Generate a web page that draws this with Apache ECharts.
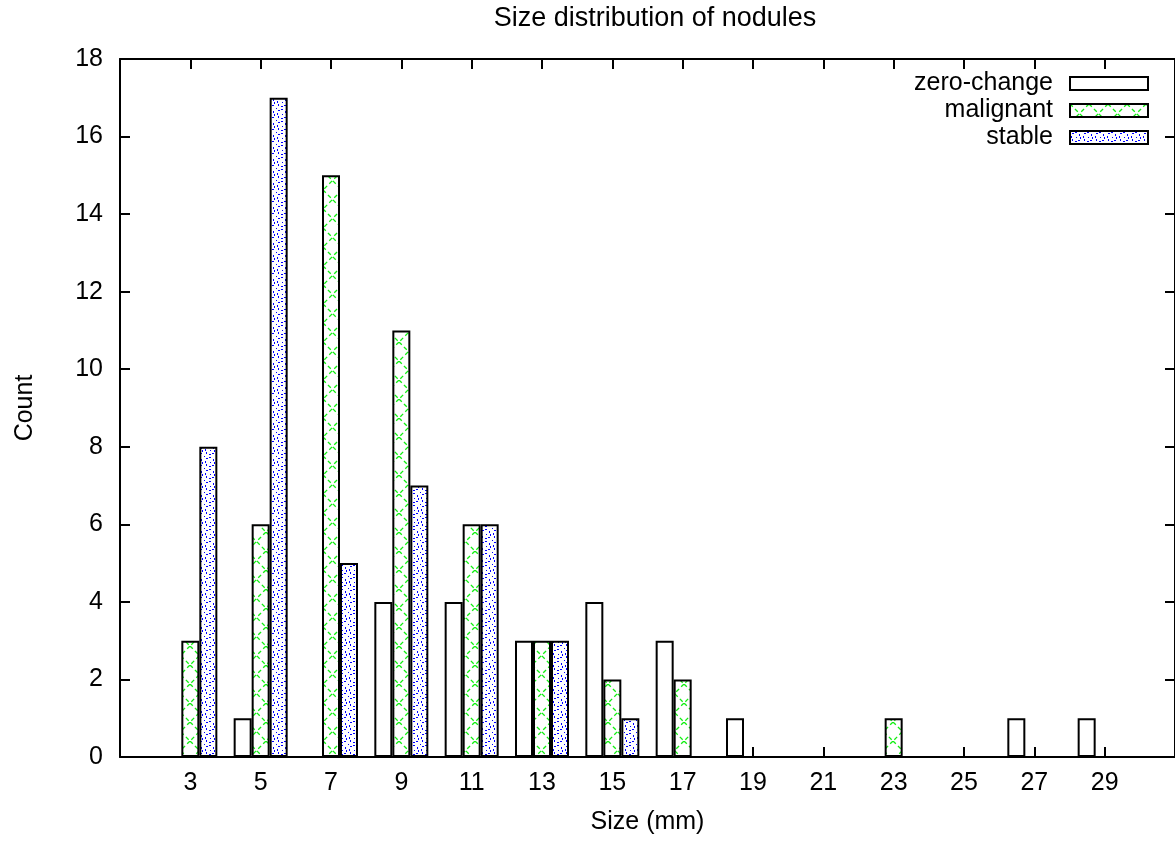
<!DOCTYPE html>
<html>
<head>
<meta charset="utf-8">
<title>Size distribution of nodules</title>
<script src="https://cdn.jsdelivr.net/npm/echarts@6/dist/echarts.min.js"></script>
<style>
  html, body { margin: 0; padding: 0; background: #fff; }
  #chart { width: 1175px; height: 841px; }
</style>
</head>
<body>
<div id="chart"></div>
<script>
// values
const sizes = [3, 5, 7, 9, 11, 13, 15, 17, 19, 21, 23, 25, 27, 29]
const zeroChange = [0, 1, 0, 4, 4, 3, 4, 3, 1, 0, 0, 0, 1, 1]
const malignant = [3, 6, 15, 11, 6, 3, 2, 2, 0, 0, 1, 0, 0, 0]
const stable = [8, 17, 5, 7, 6, 3, 1, 0, 0, 0, 0, 0, 0, 0]

const FONT = 'Liberation Sans, Arial, sans-serif'
const FONT_SIZE = 25
const LINE = '#000'
const LW = 2

// gnuplot-like fill patterns
function makePattern(size, draw) {
  const c = document.createElement('canvas')
  c.width = size
  c.height = size
  const ctx = c.getContext('2d')
  ctx.fillStyle = '#fff'
  ctx.fillRect(0, 0, size, size)
  draw(ctx, size)
  return { image: c, repeat: 'repeat' }
}

const crossFill = makePattern(19, (ctx, s) => {
  ctx.strokeStyle = '#11ee11'
  ctx.lineWidth = 1.3
  ctx.setLineDash([4, 3])
  ctx.beginPath()
  ctx.moveTo(0, 0); ctx.lineTo(s, s)
  ctx.moveTo(s, 0); ctx.lineTo(0, s)
  ctx.stroke()
})

const dotFill = makePattern(12, (ctx) => {
  ctx.fillStyle = '#0000ff'
  // small rings of short dashes, dot in the middle and corner
  const ring = [[5, 1, 2, 1], [9, 3, 1, 2], [10, 6, 1, 2], [8, 9, 2, 1],
                [5, 10, 2, 1], [2, 8, 1, 2], [1, 5, 1, 2], [2, 2, 2, 1]]
  ring.forEach(r => ctx.fillRect(r[0], r[1], r[2], r[3]))
  ctx.fillRect(0, 0, 1, 1)
  ctx.fillRect(6, 6, 1, 1)
})

function pairs(vals) {
  return sizes.map((s, i) => [s, vals[i]]).filter(d => d[1] > 0)
}

function makeSeries(name, vals, color) {
  return {
    name,
    type: 'bar',
    xAxisIndex: 0,
    yAxisIndex: 0,
    data: pairs(vals),
    barWidth: 18,
    barGap: '0%',
    itemStyle: { color, borderColor: LINE, borderWidth: LW },
    emphasis: { disabled: true },
  }
}

const axisText = { color: '#000', fontFamily: FONT, fontSize: FONT_SIZE }
const tickStyle = { inside: true, length: 10, lineStyle: { color: LINE, width: LW } }
const lineStyle = { show: true, onZero: false, lineStyle: { color: LINE, width: LW } }

const chart = echarts.init(document.getElementById('chart'), null, { renderer: 'canvas' })

chart.setOption({
  animation: false,
  backgroundColor: '#fff',
  title: {
    text: 'Size distribution of nodules',
    left: 650,
    top: 0,
    textAlign: 'center',
    textStyle: { color: '#000', fontFamily: FONT, fontSize: 27, fontWeight: 'normal' },
  },
  legend: {
    orient: 'vertical',
    right: 21,
    top: 65,
    align: 'right',
    icon: 'rect',
    itemWidth: 78,
    itemHeight: 13,
    itemGap: 0,
    selectedMode: false,
    itemStyle: { borderColor: LINE, borderWidth: LW },
    textStyle: { ...axisText, lineHeight: 27, padding: [0, 12, 0, 0] },
    data: ['zero-change', 'malignant', 'stable'],
  },
  grid: { left: 120, top: 59, width: 1061, height: 698 },
  xAxis: [
    {
      type: 'value',
      min: 1,
      max: 31,
      interval: 2,
      name: 'Size (mm)',
      nameLocation: 'middle',
      nameGap: 53,
      nameTextStyle: axisText,
      axisLine: lineStyle,
      axisTick: tickStyle,
      axisLabel: { ...axisText, margin: 14, showMinLabel: false, showMaxLabel: false },
      splitLine: { show: false },
    },
    {
      type: 'value',
      position: 'top',
      min: 1,
      max: 31,
      interval: 2,
      axisLine: lineStyle,
      axisTick: tickStyle,
      axisLabel: { show: false },
      splitLine: { show: false },
    },
  ],
  yAxis: [
    {
      type: 'value',
      min: 0,
      max: 18,
      interval: 2,
      name: 'Count',
      nameLocation: 'middle',
      nameRotate: 90,
      nameGap: 82,
      nameTextStyle: axisText,
      axisLine: lineStyle,
      axisTick: { show: true, ...tickStyle },
      axisLabel: { ...axisText, margin: 17 },
      splitLine: { show: false },
    },
    {
      type: 'value',
      position: 'right',
      min: 0,
      max: 18,
      interval: 2,
      axisLine: lineStyle,
      axisTick: { show: true, ...tickStyle },
      axisLabel: { show: false },
      splitLine: { show: false },
    },
  ],
  series: [
    makeSeries('zero-change', zeroChange, '#fff'),
    makeSeries('malignant', malignant, crossFill),
    makeSeries('stable', stable, dotFill),
  ],
})
</script>
</body>
</html>
